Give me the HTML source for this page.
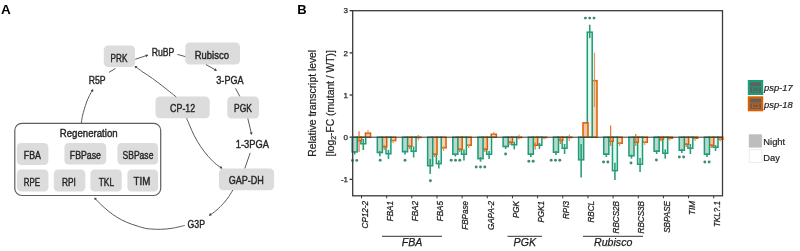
<!DOCTYPE html>
<html><head><meta charset="utf-8"><style>
html,body{margin:0;padding:0;background:#fff;width:800px;height:251px;overflow:hidden}
svg{display:block;will-change:transform}
text{font-family:"Liberation Sans",sans-serif}
</style></head><body>
<svg width="800" height="251" viewBox="0 0 800 251">
<text x="0.90" y="13.80" font-size="13.5" text-anchor="start" fill="#000" font-weight="bold" font-style="normal">A</text>
<rect x="14.8" y="123.3" width="145.9" height="72.2" rx="7" fill="none" stroke="#5f5f5f" stroke-width="1.2"/>
<text x="59.80" y="136.70" font-size="10.2" text-anchor="start" fill="#262626" font-weight="normal" font-style="normal" textLength="57.80" lengthAdjust="spacingAndGlyphs" stroke="#262626" stroke-width="0.4">Regeneration</text>
<rect x="103.80" y="45.40" width="31.20" height="21.70" rx="4.3" fill="#dcdcdc"/>
<text x="110.60" y="61.60" font-size="10.2" text-anchor="start" fill="#262626" font-weight="normal" font-style="normal" textLength="16.80" lengthAdjust="spacingAndGlyphs" stroke="#262626" stroke-width="0.4">PRK</text>
<rect x="185.30" y="42.60" width="54.70" height="22.00" rx="4.3" fill="#dcdcdc"/>
<text x="194.80" y="58.80" font-size="10.2" text-anchor="start" fill="#262626" font-weight="normal" font-style="normal" textLength="34.10" lengthAdjust="spacingAndGlyphs" stroke="#262626" stroke-width="0.4">Rubisco</text>
<rect x="155.50" y="96.50" width="54.20" height="21.70" rx="4.3" fill="#dcdcdc"/>
<text x="170.10" y="112.20" font-size="10.2" text-anchor="start" fill="#262626" font-weight="normal" font-style="normal" textLength="25.10" lengthAdjust="spacingAndGlyphs" stroke="#262626" stroke-width="0.4">CP-12</text>
<rect x="227.30" y="96.40" width="31.70" height="22.10" rx="4.3" fill="#dcdcdc"/>
<text x="234.10" y="112.40" font-size="10.2" text-anchor="start" fill="#262626" font-weight="normal" font-style="normal" textLength="17.90" lengthAdjust="spacingAndGlyphs" stroke="#262626" stroke-width="0.4">PGK</text>
<rect x="218.90" y="168.40" width="55.20" height="21.90" rx="4.3" fill="#dcdcdc"/>
<text x="228.70" y="184.40" font-size="10.2" text-anchor="start" fill="#262626" font-weight="normal" font-style="normal" textLength="35.20" lengthAdjust="spacingAndGlyphs" stroke="#262626" stroke-width="0.4">GAP-DH</text>
<rect x="16.90" y="142.90" width="31.50" height="22.00" rx="4.3" fill="#dcdcdc"/>
<text x="23.80" y="158.70" font-size="10.2" text-anchor="start" fill="#262626" font-weight="normal" font-style="normal" textLength="17.10" lengthAdjust="spacingAndGlyphs" stroke="#262626" stroke-width="0.4">FBA</text>
<rect x="64.40" y="142.90" width="41.80" height="21.70" rx="4.3" fill="#dcdcdc"/>
<text x="69.80" y="158.70" font-size="10.2" text-anchor="start" fill="#262626" font-weight="normal" font-style="normal" textLength="31.20" lengthAdjust="spacingAndGlyphs" stroke="#262626" stroke-width="0.4">FBPase</text>
<rect x="117.40" y="142.90" width="40.60" height="21.70" rx="4.3" fill="#dcdcdc"/>
<text x="122.50" y="158.70" font-size="10.2" text-anchor="start" fill="#262626" font-weight="normal" font-style="normal" textLength="30.90" lengthAdjust="spacingAndGlyphs" stroke="#262626" stroke-width="0.4">SBPase</text>
<rect x="16.90" y="169.60" width="31.50" height="21.90" rx="4.3" fill="#dcdcdc"/>
<text x="23.70" y="185.90" font-size="10.2" text-anchor="start" fill="#262626" font-weight="normal" font-style="normal" textLength="16.30" lengthAdjust="spacingAndGlyphs" stroke="#262626" stroke-width="0.4">RPE</text>
<rect x="53.80" y="169.60" width="31.50" height="21.90" rx="4.3" fill="#dcdcdc"/>
<text x="62.00" y="185.90" font-size="10.2" text-anchor="start" fill="#262626" font-weight="normal" font-style="normal" textLength="13.90" lengthAdjust="spacingAndGlyphs" stroke="#262626" stroke-width="0.4">RPI</text>
<rect x="90.40" y="169.60" width="31.40" height="21.90" rx="4.3" fill="#dcdcdc"/>
<text x="98.70" y="185.60" font-size="10.2" text-anchor="start" fill="#262626" font-weight="normal" font-style="normal" textLength="15.40" lengthAdjust="spacingAndGlyphs" stroke="#262626" stroke-width="0.4">TKL</text>
<rect x="127.40" y="169.60" width="30.70" height="21.90" rx="4.3" fill="#dcdcdc"/>
<text x="133.60" y="184.60" font-size="10.2" text-anchor="start" fill="#262626" font-weight="normal" font-style="normal" textLength="16.70" lengthAdjust="spacingAndGlyphs" stroke="#262626" stroke-width="0.4">TIM</text>
<text x="151.70" y="56.20" font-size="10.2" text-anchor="start" fill="#262626" font-weight="normal" font-style="normal" textLength="22.70" lengthAdjust="spacingAndGlyphs" stroke="#262626" stroke-width="0.4">RuBP</text>
<text x="88.70" y="83.80" font-size="10.2" text-anchor="start" fill="#262626" font-weight="normal" font-style="normal" textLength="16.90" lengthAdjust="spacingAndGlyphs" stroke="#262626" stroke-width="0.4">R5P</text>
<text x="216.30" y="84.00" font-size="10.2" text-anchor="start" fill="#262626" font-weight="normal" font-style="normal" textLength="27.30" lengthAdjust="spacingAndGlyphs" stroke="#262626" stroke-width="0.4">3-PGA</text>
<text x="235.70" y="147.80" font-size="10.2" text-anchor="start" fill="#262626" font-weight="normal" font-style="normal" textLength="33.20" lengthAdjust="spacingAndGlyphs" stroke="#262626" stroke-width="0.4">1-3PGA</text>
<text x="187.60" y="228.40" font-size="10.2" text-anchor="start" fill="#262626" font-weight="normal" font-style="normal" textLength="17.40" lengthAdjust="spacingAndGlyphs" stroke="#262626" stroke-width="0.4">G3P</text>
<path d="M135.2,59.3 L147.5,55.2" fill="none" stroke="#5a5a5a" stroke-width="1"/>
<path d="M148.30,55.00 L146.28,57.17 L145.38,54.45 Z" fill="#3a3a3a"/>
<path d="M177.4,54.4 L185.3,56.6" fill="none" stroke="#5a5a5a" stroke-width="1"/>
<path d="M206,64.6 L216.2,70.3" fill="none" stroke="#5a5a5a" stroke-width="1"/>
<path d="M217.00,70.80 L214.03,70.77 L215.44,68.28 Z" fill="#3a3a3a"/>
<path d="M235.5,88.3 L239.8,96.4" fill="none" stroke="#5a5a5a" stroke-width="1"/>
<path d="M247.8,118.5 L251.5,134" fill="none" stroke="#5a5a5a" stroke-width="1"/>
<path d="M251.70,135.00 L249.71,132.80 L252.49,132.14 Z" fill="#3a3a3a"/>
<path d="M250.2,152.9 L244.8,168.4" fill="none" stroke="#5a5a5a" stroke-width="1"/>
<path d="M232.80,190.00 C232.15,191.08 230.42,194.32 228.90,196.50 C227.38,198.68 225.67,200.90 223.70,203.10 C221.73,205.30 218.97,208.00 217.10,209.70 C215.23,211.40 213.75,212.37 212.50,213.30 C211.25,214.23 210.08,214.97 209.60,215.30" fill="none" stroke="#5a5a5a" stroke-width="1"/>
<path d="M208.90,215.80 L210.09,213.08 L211.83,215.35 Z" fill="#3a3a3a"/>
<path d="M184.70,225.50 C182.57,225.97 175.90,227.67 171.90,228.30 C167.90,228.93 164.42,229.20 160.70,229.30 C156.98,229.40 152.25,229.08 149.60,228.90 C146.95,228.72 147.07,228.75 144.80,228.20 C142.53,227.65 139.05,226.60 136.00,225.60 C132.95,224.60 129.68,223.60 126.50,222.20 C123.32,220.80 119.83,218.98 116.90,217.20 C113.97,215.42 111.55,213.60 108.90,211.50 C106.25,209.40 103.32,206.78 101.00,204.60 C98.68,202.42 96.00,199.43 95.00,198.40" fill="none" stroke="#5a5a5a" stroke-width="1"/>
<path d="M94.20,197.40 L96.99,198.40 L94.85,200.29 Z" fill="#3a3a3a"/>
<path d="M81.30,123.30 C81.48,122.13 81.90,118.67 82.40,116.30 C82.90,113.93 83.58,111.50 84.30,109.10 C85.02,106.70 85.85,104.15 86.70,101.90 C87.55,99.65 88.42,97.60 89.40,95.60 C90.38,93.60 92.07,90.85 92.60,89.90" fill="none" stroke="#5a5a5a" stroke-width="1"/>
<path d="M93.20,89.00 L93.15,91.97 L90.67,90.55 Z" fill="#3a3a3a"/>
<path d="M108.9,72.4 L115.5,68.4" fill="none" stroke="#5a5a5a" stroke-width="1"/>
<path d="M135.50,66.60 C136.70,67.48 139.90,69.95 142.70,71.90 C145.50,73.85 149.12,76.03 152.30,78.30 C155.48,80.57 158.88,83.25 161.80,85.50 C164.72,87.75 167.40,89.90 169.80,91.80 C172.20,93.70 175.13,96.05 176.20,96.90" fill="none" stroke="#5a5a5a" stroke-width="1"/>
<path d="M134.40,65.90 L137.35,66.17 L135.75,68.54 Z" fill="#3a3a3a"/>
<path d="M186.60,118.20 C187.15,119.50 188.62,123.07 189.90,126.00 C191.18,128.93 192.48,132.33 194.30,135.80 C196.12,139.27 198.43,143.32 200.80,146.80 C203.17,150.28 205.93,153.78 208.50,156.70 C211.07,159.62 214.03,162.43 216.20,164.30 C218.37,166.17 220.62,167.30 221.50,167.90" fill="none" stroke="#5a5a5a" stroke-width="1"/>
<path d="M222.40,168.50 L219.44,168.27 L221.01,165.88 Z" fill="#3a3a3a"/>
<text x="297.20" y="14.00" font-size="13" text-anchor="start" fill="#000" font-weight="bold" font-style="normal">B</text>
<text transform="translate(315.6,103.3) rotate(-90)" font-size="10.3" text-anchor="middle" fill="#1e1e1e" stroke="#1e1e1e" stroke-width="0.2" textLength="106.9" lengthAdjust="spacingAndGlyphs">Relative transcript level</text>
<text transform="translate(333.7,103.3) rotate(-90)" font-size="10.3" text-anchor="middle" fill="#1e1e1e" stroke="#1e1e1e" stroke-width="0.2">[log<tspan font-size="7" dy="2">2</tspan><tspan dy="-2">-FC (mutant / WT)]</tspan></text>
<line x1="349.6" y1="10.67" x2="352.7" y2="10.67" stroke="#333" stroke-width="1.3"/>
<text x="348.00" y="13.47" font-size="8" text-anchor="end" fill="#222" font-weight="normal" font-style="normal" stroke="#222" stroke-width="0.25">3</text>
<line x1="349.6" y1="52.85" x2="352.7" y2="52.85" stroke="#333" stroke-width="1.3"/>
<text x="348.00" y="55.65" font-size="8" text-anchor="end" fill="#222" font-weight="normal" font-style="normal" stroke="#222" stroke-width="0.25">2</text>
<line x1="349.6" y1="95.02" x2="352.7" y2="95.02" stroke="#333" stroke-width="1.3"/>
<text x="348.00" y="97.82" font-size="8" text-anchor="end" fill="#222" font-weight="normal" font-style="normal" stroke="#222" stroke-width="0.25">1</text>
<line x1="349.6" y1="137.20" x2="352.7" y2="137.20" stroke="#333" stroke-width="1.3"/>
<text x="348.00" y="140.00" font-size="8" text-anchor="end" fill="#222" font-weight="normal" font-style="normal" stroke="#222" stroke-width="0.25">0</text>
<line x1="349.6" y1="179.38" x2="352.7" y2="179.38" stroke="#333" stroke-width="1.3"/>
<text x="348.00" y="182.18" font-size="8" text-anchor="end" fill="#222" font-weight="normal" font-style="normal" stroke="#222" stroke-width="0.25">-1</text>
<rect x="365.45" y="133.15" width="5.10" height="4.05" fill="#f7d3b8" stroke="#d95f02" stroke-width="1.5"/>
<line x1="368.00" y1="130.10" x2="368.00" y2="134.70" stroke="#e7935c" stroke-width="1.2"/>
<rect x="360.85" y="137.20" width="4.90" height="6.55" fill="#e6f6f1" stroke="#1b9e77" stroke-width="1.5"/>
<line x1="363.30" y1="139.00" x2="363.30" y2="150.00" stroke="#2f9d7c" stroke-width="1.6"/>
<rect x="356.55" y="137.20" width="5.00" height="3.55" fill="#f0c6a6" stroke="#d95f02" stroke-width="1.5"/>
<line x1="359.05" y1="131.20" x2="359.05" y2="152.00" stroke="#dd7430" stroke-width="1.2"/>
<rect x="352.15" y="137.20" width="5.10" height="14.75" fill="#b8d8ce" stroke="#1b9e77" stroke-width="1.5"/>
<line x1="354.70" y1="151.00" x2="354.70" y2="154.50" stroke="#2f9d7c" stroke-width="1.6"/>
<rect x="390.61" y="137.20" width="5.10" height="3.35" fill="#f7d3b8" stroke="#d95f02" stroke-width="1.5"/>
<line x1="393.16" y1="139.50" x2="393.16" y2="143.00" stroke="#e7935c" stroke-width="1.2"/>
<rect x="386.01" y="137.20" width="4.90" height="16.55" fill="#e6f6f1" stroke="#1b9e77" stroke-width="1.5"/>
<line x1="388.46" y1="150.00" x2="388.46" y2="158.90" stroke="#2f9d7c" stroke-width="1.6"/>
<rect x="381.71" y="137.20" width="5.00" height="9.55" fill="#f0c6a6" stroke="#d95f02" stroke-width="1.5"/>
<line x1="384.21" y1="145.00" x2="384.21" y2="150.00" stroke="#dd7430" stroke-width="1.2"/>
<rect x="377.31" y="137.20" width="5.10" height="15.35" fill="#b8d8ce" stroke="#1b9e77" stroke-width="1.5"/>
<line x1="379.86" y1="151.00" x2="379.86" y2="156.30" stroke="#2f9d7c" stroke-width="1.6"/>
<rect x="415.77" y="137.20" width="5.10" height="0.30" fill="#f7d3b8" stroke="#d95f02" stroke-width="1.5"/>
<line x1="418.32" y1="135.00" x2="418.32" y2="140.50" stroke="#e7935c" stroke-width="1.2"/>
<rect x="411.17" y="137.20" width="4.90" height="14.05" fill="#e6f6f1" stroke="#1b9e77" stroke-width="1.5"/>
<line x1="413.62" y1="146.50" x2="413.62" y2="157.50" stroke="#2f9d7c" stroke-width="1.6"/>
<rect x="406.87" y="137.20" width="5.00" height="9.05" fill="#f0c6a6" stroke="#d95f02" stroke-width="1.5"/>
<line x1="409.37" y1="145.00" x2="409.37" y2="149.00" stroke="#dd7430" stroke-width="1.2"/>
<rect x="402.47" y="137.20" width="5.10" height="14.55" fill="#b8d8ce" stroke="#1b9e77" stroke-width="1.5"/>
<line x1="405.02" y1="150.50" x2="405.02" y2="154.50" stroke="#2f9d7c" stroke-width="1.6"/>
<rect x="440.93" y="137.20" width="5.10" height="10.65" fill="#f7d3b8" stroke="#d95f02" stroke-width="1.5"/>
<line x1="443.48" y1="146.00" x2="443.48" y2="151.00" stroke="#e7935c" stroke-width="1.2"/>
<rect x="436.33" y="137.20" width="4.90" height="26.45" fill="#e6f6f1" stroke="#1b9e77" stroke-width="1.5"/>
<line x1="438.78" y1="160.30" x2="438.78" y2="168.50" stroke="#2f9d7c" stroke-width="1.6"/>
<rect x="432.03" y="137.20" width="5.00" height="17.05" fill="#f0c6a6" stroke="#d95f02" stroke-width="1.5"/>
<line x1="434.53" y1="153.00" x2="434.53" y2="157.00" stroke="#dd7430" stroke-width="1.2"/>
<rect x="427.63" y="137.20" width="5.10" height="28.55" fill="#b8d8ce" stroke="#1b9e77" stroke-width="1.5"/>
<line x1="430.18" y1="159.00" x2="430.18" y2="174.00" stroke="#2f9d7c" stroke-width="1.6"/>
<rect x="466.09" y="137.20" width="5.10" height="8.05" fill="#f7d3b8" stroke="#d95f02" stroke-width="1.5"/>
<line x1="468.64" y1="144.00" x2="468.64" y2="148.00" stroke="#e7935c" stroke-width="1.2"/>
<rect x="461.49" y="137.20" width="4.90" height="17.05" fill="#e6f6f1" stroke="#1b9e77" stroke-width="1.5"/>
<line x1="463.94" y1="149.50" x2="463.94" y2="160.60" stroke="#2f9d7c" stroke-width="1.6"/>
<rect x="457.19" y="137.20" width="5.00" height="12.05" fill="#f0c6a6" stroke="#d95f02" stroke-width="1.5"/>
<line x1="459.69" y1="148.00" x2="459.69" y2="152.00" stroke="#dd7430" stroke-width="1.2"/>
<rect x="452.79" y="137.20" width="5.10" height="17.05" fill="#b8d8ce" stroke="#1b9e77" stroke-width="1.5"/>
<line x1="455.34" y1="153.50" x2="455.34" y2="156.50" stroke="#2f9d7c" stroke-width="1.6"/>
<rect x="491.25" y="134.25" width="5.10" height="2.95" fill="#f7d3b8" stroke="#d95f02" stroke-width="1.5"/>
<line x1="493.80" y1="132.00" x2="493.80" y2="135.00" stroke="#e7935c" stroke-width="1.2"/>
<rect x="486.65" y="137.20" width="4.90" height="17.05" fill="#e6f6f1" stroke="#1b9e77" stroke-width="1.5"/>
<line x1="489.10" y1="151.00" x2="489.10" y2="159.00" stroke="#2f9d7c" stroke-width="1.6"/>
<rect x="482.35" y="137.20" width="5.00" height="12.05" fill="#f0c6a6" stroke="#d95f02" stroke-width="1.5"/>
<line x1="484.85" y1="148.00" x2="484.85" y2="152.00" stroke="#dd7430" stroke-width="1.2"/>
<rect x="477.95" y="137.20" width="5.10" height="21.45" fill="#b8d8ce" stroke="#1b9e77" stroke-width="1.5"/>
<line x1="480.50" y1="157.00" x2="480.50" y2="161.70" stroke="#2f9d7c" stroke-width="1.6"/>
<rect x="516.41" y="137.20" width="5.10" height="0.30" fill="#f7d3b8" stroke="#d95f02" stroke-width="1.5"/>
<line x1="518.96" y1="134.50" x2="518.96" y2="139.50" stroke="#e7935c" stroke-width="1.2"/>
<rect x="511.81" y="137.20" width="4.90" height="7.55" fill="#e6f6f1" stroke="#1b9e77" stroke-width="1.5"/>
<line x1="514.26" y1="141.60" x2="514.26" y2="149.40" stroke="#2f9d7c" stroke-width="1.6"/>
<rect x="507.51" y="137.20" width="5.00" height="5.05" fill="#f0c6a6" stroke="#d95f02" stroke-width="1.5"/>
<line x1="510.01" y1="141.00" x2="510.01" y2="145.00" stroke="#dd7430" stroke-width="1.2"/>
<rect x="503.11" y="137.20" width="5.10" height="9.35" fill="#b8d8ce" stroke="#1b9e77" stroke-width="1.5"/>
<line x1="505.66" y1="145.60" x2="505.66" y2="149.00" stroke="#2f9d7c" stroke-width="1.6"/>
<rect x="541.57" y="137.20" width="5.10" height="0.30" fill="#f7d3b8" stroke="#d95f02" stroke-width="1.5"/>
<line x1="544.12" y1="137.00" x2="544.12" y2="139.50" stroke="#e7935c" stroke-width="1.2"/>
<rect x="536.97" y="137.20" width="4.90" height="8.05" fill="#e6f6f1" stroke="#1b9e77" stroke-width="1.5"/>
<line x1="539.42" y1="143.00" x2="539.42" y2="149.00" stroke="#2f9d7c" stroke-width="1.6"/>
<rect x="532.67" y="137.20" width="5.00" height="8.05" fill="#f0c6a6" stroke="#d95f02" stroke-width="1.5"/>
<line x1="535.17" y1="142.60" x2="535.17" y2="149.40" stroke="#dd7430" stroke-width="1.2"/>
<rect x="528.27" y="137.20" width="5.10" height="17.05" fill="#b8d8ce" stroke="#1b9e77" stroke-width="1.5"/>
<line x1="530.82" y1="153.00" x2="530.82" y2="157.00" stroke="#2f9d7c" stroke-width="1.6"/>
<rect x="566.73" y="137.20" width="5.10" height="0.30" fill="#f7d3b8" stroke="#d95f02" stroke-width="1.5"/>
<line x1="569.28" y1="134.50" x2="569.28" y2="141.00" stroke="#e7935c" stroke-width="1.2"/>
<rect x="562.13" y="137.20" width="4.90" height="11.05" fill="#e6f6f1" stroke="#1b9e77" stroke-width="1.5"/>
<line x1="564.58" y1="144.00" x2="564.58" y2="154.00" stroke="#2f9d7c" stroke-width="1.6"/>
<rect x="557.83" y="137.20" width="5.00" height="3.05" fill="#f0c6a6" stroke="#d95f02" stroke-width="1.5"/>
<line x1="560.33" y1="138.00" x2="560.33" y2="144.00" stroke="#dd7430" stroke-width="1.2"/>
<rect x="553.43" y="137.20" width="5.10" height="15.05" fill="#b8d8ce" stroke="#1b9e77" stroke-width="1.5"/>
<line x1="555.98" y1="151.00" x2="555.98" y2="155.00" stroke="#2f9d7c" stroke-width="1.6"/>
<rect x="591.89" y="80.65" width="5.10" height="56.55" fill="#f7d3b8" stroke="#d95f02" stroke-width="1.5"/>
<line x1="594.44" y1="52.70" x2="594.44" y2="107.00" stroke="#e7935c" stroke-width="1.2"/>
<rect x="587.29" y="32.15" width="4.90" height="105.05" fill="#e6f6f1" stroke="#1b9e77" stroke-width="1.5"/>
<line x1="589.74" y1="24.70" x2="589.74" y2="38.10" stroke="#2f9d7c" stroke-width="1.6"/>
<rect x="582.99" y="122.85" width="5.00" height="14.35" fill="#f0c6a6" stroke="#d95f02" stroke-width="1.5"/>
<rect x="578.59" y="137.20" width="5.10" height="22.65" fill="#b8d8ce" stroke="#1b9e77" stroke-width="1.5"/>
<line x1="581.14" y1="144.00" x2="581.14" y2="177.40" stroke="#2f9d7c" stroke-width="1.6"/>
<rect x="617.05" y="137.20" width="5.10" height="6.05" fill="#f7d3b8" stroke="#d95f02" stroke-width="1.5"/>
<line x1="619.60" y1="142.00" x2="619.60" y2="146.00" stroke="#e7935c" stroke-width="1.2"/>
<rect x="612.45" y="137.20" width="4.90" height="33.45" fill="#e6f6f1" stroke="#1b9e77" stroke-width="1.5"/>
<line x1="614.90" y1="162.80" x2="614.90" y2="180.00" stroke="#2f9d7c" stroke-width="1.6"/>
<rect x="608.15" y="137.20" width="5.00" height="4.05" fill="#f0c6a6" stroke="#d95f02" stroke-width="1.5"/>
<line x1="610.65" y1="125.50" x2="610.65" y2="146.00" stroke="#dd7430" stroke-width="1.2"/>
<rect x="603.75" y="137.20" width="5.10" height="17.05" fill="#b8d8ce" stroke="#1b9e77" stroke-width="1.5"/>
<line x1="606.30" y1="153.00" x2="606.30" y2="157.00" stroke="#2f9d7c" stroke-width="1.6"/>
<rect x="642.21" y="137.20" width="5.10" height="5.05" fill="#f7d3b8" stroke="#d95f02" stroke-width="1.5"/>
<line x1="644.76" y1="141.00" x2="644.76" y2="145.00" stroke="#e7935c" stroke-width="1.2"/>
<rect x="637.61" y="137.20" width="4.90" height="27.05" fill="#e6f6f1" stroke="#1b9e77" stroke-width="1.5"/>
<line x1="640.06" y1="158.00" x2="640.06" y2="172.00" stroke="#2f9d7c" stroke-width="1.6"/>
<rect x="633.31" y="137.20" width="5.00" height="5.05" fill="#f0c6a6" stroke="#d95f02" stroke-width="1.5"/>
<line x1="635.81" y1="134.00" x2="635.81" y2="146.00" stroke="#dd7430" stroke-width="1.2"/>
<rect x="628.91" y="137.20" width="5.10" height="18.65" fill="#b8d8ce" stroke="#1b9e77" stroke-width="1.5"/>
<line x1="631.46" y1="154.60" x2="631.46" y2="158.60" stroke="#2f9d7c" stroke-width="1.6"/>
<rect x="667.37" y="137.20" width="5.10" height="1.05" fill="#f7d3b8" stroke="#d95f02" stroke-width="1.5"/>
<line x1="669.92" y1="138.00" x2="669.92" y2="140.50" stroke="#e7935c" stroke-width="1.2"/>
<rect x="662.77" y="137.20" width="4.90" height="16.05" fill="#e6f6f1" stroke="#1b9e77" stroke-width="1.5"/>
<line x1="665.22" y1="149.40" x2="665.22" y2="158.60" stroke="#2f9d7c" stroke-width="1.6"/>
<rect x="658.47" y="137.20" width="5.00" height="2.05" fill="#f0c6a6" stroke="#d95f02" stroke-width="1.5"/>
<line x1="660.97" y1="138.50" x2="660.97" y2="141.50" stroke="#dd7430" stroke-width="1.2"/>
<rect x="654.07" y="137.20" width="5.10" height="14.05" fill="#b8d8ce" stroke="#1b9e77" stroke-width="1.5"/>
<line x1="656.62" y1="150.00" x2="656.62" y2="154.00" stroke="#2f9d7c" stroke-width="1.6"/>
<rect x="692.53" y="137.20" width="5.10" height="1.05" fill="#f7d3b8" stroke="#d95f02" stroke-width="1.5"/>
<line x1="695.08" y1="138.00" x2="695.08" y2="141.00" stroke="#e7935c" stroke-width="1.2"/>
<rect x="687.93" y="137.20" width="4.90" height="11.05" fill="#e6f6f1" stroke="#1b9e77" stroke-width="1.5"/>
<line x1="690.38" y1="144.00" x2="690.38" y2="154.00" stroke="#2f9d7c" stroke-width="1.6"/>
<rect x="683.63" y="137.20" width="5.00" height="7.05" fill="#f0c6a6" stroke="#d95f02" stroke-width="1.5"/>
<line x1="686.13" y1="143.00" x2="686.13" y2="147.00" stroke="#dd7430" stroke-width="1.2"/>
<rect x="679.23" y="137.20" width="5.10" height="13.05" fill="#b8d8ce" stroke="#1b9e77" stroke-width="1.5"/>
<line x1="681.78" y1="149.00" x2="681.78" y2="153.00" stroke="#2f9d7c" stroke-width="1.6"/>
<rect x="717.69" y="137.20" width="5.10" height="2.05" fill="#f7d3b8" stroke="#d95f02" stroke-width="1.5"/>
<line x1="720.24" y1="139.00" x2="720.24" y2="141.50" stroke="#e7935c" stroke-width="1.2"/>
<rect x="713.09" y="137.20" width="4.90" height="10.05" fill="#e6f6f1" stroke="#1b9e77" stroke-width="1.5"/>
<line x1="715.54" y1="145.00" x2="715.54" y2="151.00" stroke="#2f9d7c" stroke-width="1.6"/>
<rect x="708.79" y="137.20" width="5.00" height="8.05" fill="#f0c6a6" stroke="#d95f02" stroke-width="1.5"/>
<line x1="711.29" y1="144.00" x2="711.29" y2="148.00" stroke="#dd7430" stroke-width="1.2"/>
<rect x="704.39" y="137.20" width="5.10" height="17.05" fill="#b8d8ce" stroke="#1b9e77" stroke-width="1.5"/>
<line x1="706.94" y1="153.00" x2="706.94" y2="157.00" stroke="#2f9d7c" stroke-width="1.6"/>
<line x1="352.7" y1="137.2" x2="722.5" y2="137.2" stroke="#333" stroke-width="1"/>
<circle cx="352.45" cy="160.40" r="1.45" fill="#3f8a74"/>
<circle cx="356.75" cy="160.40" r="1.45" fill="#3f8a74"/>
<circle cx="380.20" cy="160.30" r="1.45" fill="#3f8a74"/>
<circle cx="405.00" cy="160.30" r="1.45" fill="#3f8a74"/>
<circle cx="430.40" cy="180.80" r="1.45" fill="#3f8a74"/>
<circle cx="451.20" cy="160.30" r="1.45" fill="#3f8a74"/>
<circle cx="455.50" cy="160.30" r="1.45" fill="#3f8a74"/>
<circle cx="459.80" cy="160.30" r="1.45" fill="#3f8a74"/>
<circle cx="476.20" cy="167.00" r="1.45" fill="#3f8a74"/>
<circle cx="480.50" cy="167.00" r="1.45" fill="#3f8a74"/>
<circle cx="484.80" cy="167.00" r="1.45" fill="#3f8a74"/>
<circle cx="505.60" cy="154.00" r="1.45" fill="#3f8a74"/>
<circle cx="528.85" cy="161.30" r="1.45" fill="#3f8a74"/>
<circle cx="533.15" cy="161.30" r="1.45" fill="#3f8a74"/>
<circle cx="551.20" cy="160.30" r="1.45" fill="#3f8a74"/>
<circle cx="555.50" cy="160.30" r="1.45" fill="#3f8a74"/>
<circle cx="559.80" cy="160.30" r="1.45" fill="#3f8a74"/>
<circle cx="585.40" cy="18.10" r="1.45" fill="#3f8a74"/>
<circle cx="589.70" cy="18.10" r="1.45" fill="#3f8a74"/>
<circle cx="594.00" cy="18.10" r="1.45" fill="#3f8a74"/>
<circle cx="603.55" cy="162.00" r="1.45" fill="#3f8a74"/>
<circle cx="607.85" cy="162.00" r="1.45" fill="#3f8a74"/>
<circle cx="631.00" cy="163.00" r="1.45" fill="#3f8a74"/>
<circle cx="656.40" cy="160.00" r="1.45" fill="#3f8a74"/>
<circle cx="679.35" cy="157.00" r="1.45" fill="#3f8a74"/>
<circle cx="683.65" cy="157.00" r="1.45" fill="#3f8a74"/>
<circle cx="704.85" cy="162.00" r="1.45" fill="#3f8a74"/>
<circle cx="709.15" cy="162.00" r="1.45" fill="#3f8a74"/>
<rect x="352.7" y="10.7" width="369.80" height="185.10" fill="none" stroke="#3a3a3a" stroke-width="1.3"/>
<line x1="361.50" y1="195.8" x2="361.50" y2="198.3" stroke="#333" stroke-width="1"/>
<text transform="translate(367.70,201) rotate(-90)" font-size="8.6" font-style="italic" text-anchor="end" fill="#1e1e1e" stroke="#1e1e1e" stroke-width="0.25" textLength="27.46" lengthAdjust="spacingAndGlyphs">CP12-2</text>
<line x1="386.66" y1="195.8" x2="386.66" y2="198.3" stroke="#333" stroke-width="1"/>
<text transform="translate(392.86,201) rotate(-90)" font-size="8.6" font-style="italic" text-anchor="end" fill="#1e1e1e" stroke="#1e1e1e" stroke-width="0.25" textLength="20.26" lengthAdjust="spacingAndGlyphs">FBA1</text>
<line x1="411.82" y1="195.8" x2="411.82" y2="198.3" stroke="#333" stroke-width="1"/>
<text transform="translate(418.02,201) rotate(-90)" font-size="8.6" font-style="italic" text-anchor="end" fill="#1e1e1e" stroke="#1e1e1e" stroke-width="0.25" textLength="20.26" lengthAdjust="spacingAndGlyphs">FBA2</text>
<line x1="436.98" y1="195.8" x2="436.98" y2="198.3" stroke="#333" stroke-width="1"/>
<text transform="translate(443.18,201) rotate(-90)" font-size="8.6" font-style="italic" text-anchor="end" fill="#1e1e1e" stroke="#1e1e1e" stroke-width="0.25" textLength="20.26" lengthAdjust="spacingAndGlyphs">FBA5</text>
<line x1="462.14" y1="195.8" x2="462.14" y2="198.3" stroke="#333" stroke-width="1"/>
<text transform="translate(468.34,201) rotate(-90)" font-size="8.6" font-style="italic" text-anchor="end" fill="#1e1e1e" stroke="#1e1e1e" stroke-width="0.25" textLength="28.81" lengthAdjust="spacingAndGlyphs">FBPase</text>
<line x1="487.30" y1="195.8" x2="487.30" y2="198.3" stroke="#333" stroke-width="1"/>
<text transform="translate(493.50,201) rotate(-90)" font-size="8.6" font-style="italic" text-anchor="end" fill="#1e1e1e" stroke="#1e1e1e" stroke-width="0.25" textLength="29.11" lengthAdjust="spacingAndGlyphs">GAPA-2</text>
<line x1="512.46" y1="195.8" x2="512.46" y2="198.3" stroke="#333" stroke-width="1"/>
<text transform="translate(518.66,201) rotate(-90)" font-size="8.6" font-style="italic" text-anchor="end" fill="#1e1e1e" stroke="#1e1e1e" stroke-width="0.25" textLength="17.11" lengthAdjust="spacingAndGlyphs">PGK</text>
<line x1="537.62" y1="195.8" x2="537.62" y2="198.3" stroke="#333" stroke-width="1"/>
<text transform="translate(543.82,201) rotate(-90)" font-size="8.6" font-style="italic" text-anchor="end" fill="#1e1e1e" stroke="#1e1e1e" stroke-width="0.25" textLength="21.61" lengthAdjust="spacingAndGlyphs">PGK1</text>
<line x1="562.78" y1="195.8" x2="562.78" y2="198.3" stroke="#333" stroke-width="1"/>
<text transform="translate(568.98,201) rotate(-90)" font-size="8.6" font-style="italic" text-anchor="end" fill="#1e1e1e" stroke="#1e1e1e" stroke-width="0.25" textLength="18.01" lengthAdjust="spacingAndGlyphs">RPI3</text>
<line x1="587.94" y1="195.8" x2="587.94" y2="198.3" stroke="#333" stroke-width="1"/>
<text transform="translate(594.14,201) rotate(-90)" font-size="8.6" font-style="italic" text-anchor="end" fill="#1e1e1e" stroke="#1e1e1e" stroke-width="0.25" textLength="21.61" lengthAdjust="spacingAndGlyphs">RBCL</text>
<line x1="613.10" y1="195.8" x2="613.10" y2="198.3" stroke="#333" stroke-width="1"/>
<text transform="translate(619.30,201) rotate(-90)" font-size="8.6" font-style="italic" text-anchor="end" fill="#1e1e1e" stroke="#1e1e1e" stroke-width="0.25" textLength="32.41" lengthAdjust="spacingAndGlyphs">RBCS2B</text>
<line x1="638.26" y1="195.8" x2="638.26" y2="198.3" stroke="#333" stroke-width="1"/>
<text transform="translate(644.46,201) rotate(-90)" font-size="8.6" font-style="italic" text-anchor="end" fill="#1e1e1e" stroke="#1e1e1e" stroke-width="0.25" textLength="32.41" lengthAdjust="spacingAndGlyphs">RBCS3B</text>
<line x1="663.42" y1="195.8" x2="663.42" y2="198.3" stroke="#333" stroke-width="1"/>
<text transform="translate(669.62,201) rotate(-90)" font-size="8.6" font-style="italic" text-anchor="end" fill="#1e1e1e" stroke="#1e1e1e" stroke-width="0.25" textLength="31.82" lengthAdjust="spacingAndGlyphs">SBPASE</text>
<line x1="688.58" y1="195.8" x2="688.58" y2="198.3" stroke="#333" stroke-width="1"/>
<text transform="translate(694.78,201) rotate(-90)" font-size="8.6" font-style="italic" text-anchor="end" fill="#1e1e1e" stroke="#1e1e1e" stroke-width="0.25" textLength="13.94" lengthAdjust="spacingAndGlyphs">TIM</text>
<line x1="713.74" y1="195.8" x2="713.74" y2="198.3" stroke="#333" stroke-width="1"/>
<text transform="translate(719.94,201) rotate(-90)" font-size="8.6" font-style="italic" text-anchor="end" fill="#1e1e1e" stroke="#1e1e1e" stroke-width="0.25" textLength="26.11" lengthAdjust="spacingAndGlyphs">TKL?.1</text>
<line x1="382" y1="236.3" x2="442" y2="236.3" stroke="#333" stroke-width="1"/>
<text x="412.10" y="246.30" font-size="10.6" text-anchor="middle" fill="#1e1e1e" font-weight="normal" font-style="italic" stroke="#1e1e1e" stroke-width="0.25">FBA</text>
<line x1="507.5" y1="236.3" x2="542" y2="236.3" stroke="#333" stroke-width="1"/>
<text x="524.80" y="246.30" font-size="10.6" text-anchor="middle" fill="#1e1e1e" font-weight="normal" font-style="italic" stroke="#1e1e1e" stroke-width="0.25">PGK</text>
<line x1="583" y1="236.3" x2="643" y2="236.3" stroke="#333" stroke-width="1"/>
<text x="613.20" y="246.30" font-size="10.6" text-anchor="middle" fill="#1e1e1e" font-weight="normal" font-style="italic" stroke="#1e1e1e" stroke-width="0.25">Rubisco</text>
<rect x="747.8" y="80.00" width="15.4" height="15.0" fill="#1b9e77"/>
<rect x="750.2" y="82.40" width="10.8" height="10.3" fill="#5f5f5f"/>
<line x1="750.2" y1="86.60" x2="761" y2="86.60" stroke="#1b9e77" stroke-width="0.9"/>
<rect x="752.5" y="87.80" width="6.2" height="3.5" fill="none" stroke="#1b9e77" stroke-width="0.8"/>
<rect x="747.8" y="96.30" width="15.4" height="15.0" fill="#d95f02"/>
<rect x="750.2" y="98.70" width="10.8" height="10.3" fill="#5f5f5f"/>
<line x1="750.2" y1="102.90" x2="761" y2="102.90" stroke="#d95f02" stroke-width="0.9"/>
<rect x="752.5" y="104.10" width="6.2" height="3.5" fill="none" stroke="#d95f02" stroke-width="0.8"/>
<text x="764.00" y="91.20" font-size="9.4" text-anchor="start" fill="#1e1e1e" font-weight="normal" font-style="italic" stroke="#1e1e1e" stroke-width="0.2">psp-17</text>
<text x="764.00" y="107.50" font-size="9.4" text-anchor="start" fill="#1e1e1e" font-weight="normal" font-style="italic" stroke="#1e1e1e" stroke-width="0.2">psp-18</text>
<rect x="748.8" y="134.3" width="13.1" height="13.3" fill="#bdbdbd"/>
<rect x="749.3" y="149.6" width="12.6" height="12.8" fill="#fff" stroke="#ececec" stroke-width="1"/>
<text x="763.30" y="144.50" font-size="9.4" text-anchor="start" fill="#1e1e1e" font-weight="normal" font-style="normal" stroke="#1e1e1e" stroke-width="0.2">Night</text>
<text x="763.30" y="160.60" font-size="9.4" text-anchor="start" fill="#1e1e1e" font-weight="normal" font-style="normal" stroke="#1e1e1e" stroke-width="0.2">Day</text>
</svg>
</body></html>
